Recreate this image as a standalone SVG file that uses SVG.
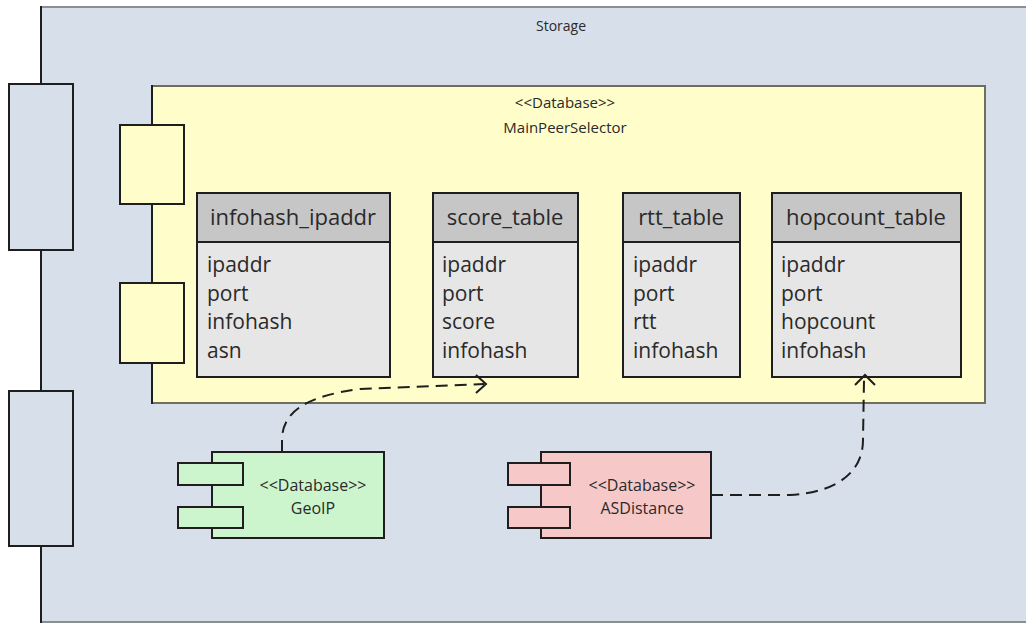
<svg xmlns="http://www.w3.org/2000/svg" width="1026" height="624" viewBox="0 0 1026 624">
  <style>
    text { font-family: "Open Sans", "Noto Sans", "DejaVu Sans", sans-serif; fill: #2a2a2a; }
    .lbl { font-size: 14px; text-anchor: middle; }
    .lbl-main { font-size: 15px; text-anchor: middle; }
    .lbl-db { font-size: 16px; text-anchor: middle; }
    .hdr { font-size: 22px; text-anchor: middle; }
    .attr { font-size: 21px; }
    .port { stroke: #1e1e1e; stroke-width: 2; }
    .tbl-head { fill: #c6c6c6; stroke: #1e1e1e; stroke-width: 2; }
    .tbl-body { fill: #e6e6e6; stroke: #1e1e1e; stroke-width: 2; }
    .dep { fill: none; stroke: #1e1e1e; stroke-width: 2; stroke-dasharray: 12 7; }
    .head { fill: none; stroke: #1e1e1e; stroke-width: 2; }
  </style>

  <rect width="1026" height="624" fill="#ffffff"/>

  <!-- Storage component -->
  <g id="storage">
    <rect x="41" y="7" width="990" height="615" fill="#d6dfea"/>
    <line x1="41" y1="7" x2="1026" y2="7" stroke="#8a8f92" stroke-width="2"/>
    <line x1="41" y1="622" x2="1026" y2="622" stroke="#8a8f92" stroke-width="2"/>
    <line x1="41" y1="6" x2="41" y2="623" stroke="#1e1e1e" stroke-width="2"/>
    <rect class="port" x="9" y="84" width="64" height="166" fill="#d6dfea"/>
    <rect class="port" x="9" y="391" width="64" height="155" fill="#d6dfea"/>
    <text class="lbl" x="561" y="31">Storage</text>
  </g>

  <!-- MainPeerSelector database -->
  <g id="mainpeerselector">
    <rect x="152" y="86" width="833" height="317" fill="#fffdca" stroke="#6f6f5f" stroke-width="2"/>
    <line x1="152" y1="85" x2="152" y2="404" stroke="#1e1e1e" stroke-width="2"/>
    <rect class="port" x="120" y="125" width="64" height="79" fill="#fffdca"/>
    <rect class="port" x="120" y="283" width="64" height="80" fill="#fffdca"/>
    <text class="lbl-main" x="565" y="108">&lt;&lt;Database&gt;&gt;</text>
    <text class="lbl-main" x="565" y="133">MainPeerSelector</text>
  </g>

  <!-- Tables -->
  <g id="infohash_ipaddr">
    <rect class="tbl-body" x="197" y="193" width="193" height="184"/>
    <rect class="tbl-head" x="197" y="193" width="193" height="49"/>
    <text class="hdr" x="293" y="225">infohash_ipaddr</text>
    <text class="attr" x="207" y="272">ipaddr</text>
    <text class="attr" x="207" y="301">port</text>
    <text class="attr" x="207" y="329">infohash</text>
    <text class="attr" x="207" y="358">asn</text>
  </g>

  <g id="score_table">
    <rect class="tbl-body" x="433" y="193" width="145" height="184"/>
    <rect class="tbl-head" x="433" y="193" width="145" height="49"/>
    <text class="hdr" x="505" y="225">score_table</text>
    <text class="attr" x="442" y="272">ipaddr</text>
    <text class="attr" x="442" y="301">port</text>
    <text class="attr" x="442" y="329">score</text>
    <text class="attr" x="442" y="358">infohash</text>
  </g>

  <g id="rtt_table">
    <rect class="tbl-body" x="623" y="193" width="117" height="184"/>
    <rect class="tbl-head" x="623" y="193" width="117" height="49"/>
    <text class="hdr" x="681" y="225">rtt_table</text>
    <text class="attr" x="633" y="272">ipaddr</text>
    <text class="attr" x="633" y="301">port</text>
    <text class="attr" x="633" y="329">rtt</text>
    <text class="attr" x="633" y="358">infohash</text>
  </g>

  <g id="hopcount_table">
    <rect class="tbl-body" x="772" y="193" width="189" height="184"/>
    <rect class="tbl-head" x="772" y="193" width="189" height="49"/>
    <text class="hdr" x="866" y="225">hopcount_table</text>
    <text class="attr" x="781" y="272">ipaddr</text>
    <text class="attr" x="781" y="301">port</text>
    <text class="attr" x="781" y="329">hopcount</text>
    <text class="attr" x="781" y="358">infohash</text>
  </g>

  <!-- GeoIP database -->
  <g id="geoip">
    <rect x="212" y="452" width="172" height="86" fill="#cdf5cd" stroke="#1e1e1e" stroke-width="2"/>
    <rect class="port" x="178" y="463" width="65" height="22" fill="#cdf5cd"/>
    <rect class="port" x="178" y="507" width="65" height="21" fill="#cdf5cd"/>
    <text class="lbl-db" x="313" y="491">&lt;&lt;Database&gt;&gt;</text>
    <text class="lbl-db" x="313" y="514">GeoIP</text>
  </g>

  <!-- ASDistance database -->
  <g id="asdistance">
    <rect x="541" y="452" width="170" height="86" fill="#f7c8c8" stroke="#1e1e1e" stroke-width="2"/>
    <rect class="port" x="508" y="463" width="62" height="22" fill="#f7c8c8"/>
    <rect class="port" x="508" y="507" width="62" height="21" fill="#f7c8c8"/>
    <text class="lbl-db" x="642" y="491">&lt;&lt;Database&gt;&gt;</text>
    <text class="lbl-db" x="642" y="514">ASDistance</text>
  </g>

  <!-- Dependencies -->
  <g id="connectors">
    <path class="dep" d="M282,452 L282,440 C282,412 306,396 360,389 L484,384"/>
    <polyline class="head" points="476,375 486,384 476,393"/>
    <path class="dep" d="M711,495 L790,495 C840,492 863,470 863,440 L864,380"/>
    <polyline class="head" points="855,385 865,375 875,385"/>
  </g>
</svg>
